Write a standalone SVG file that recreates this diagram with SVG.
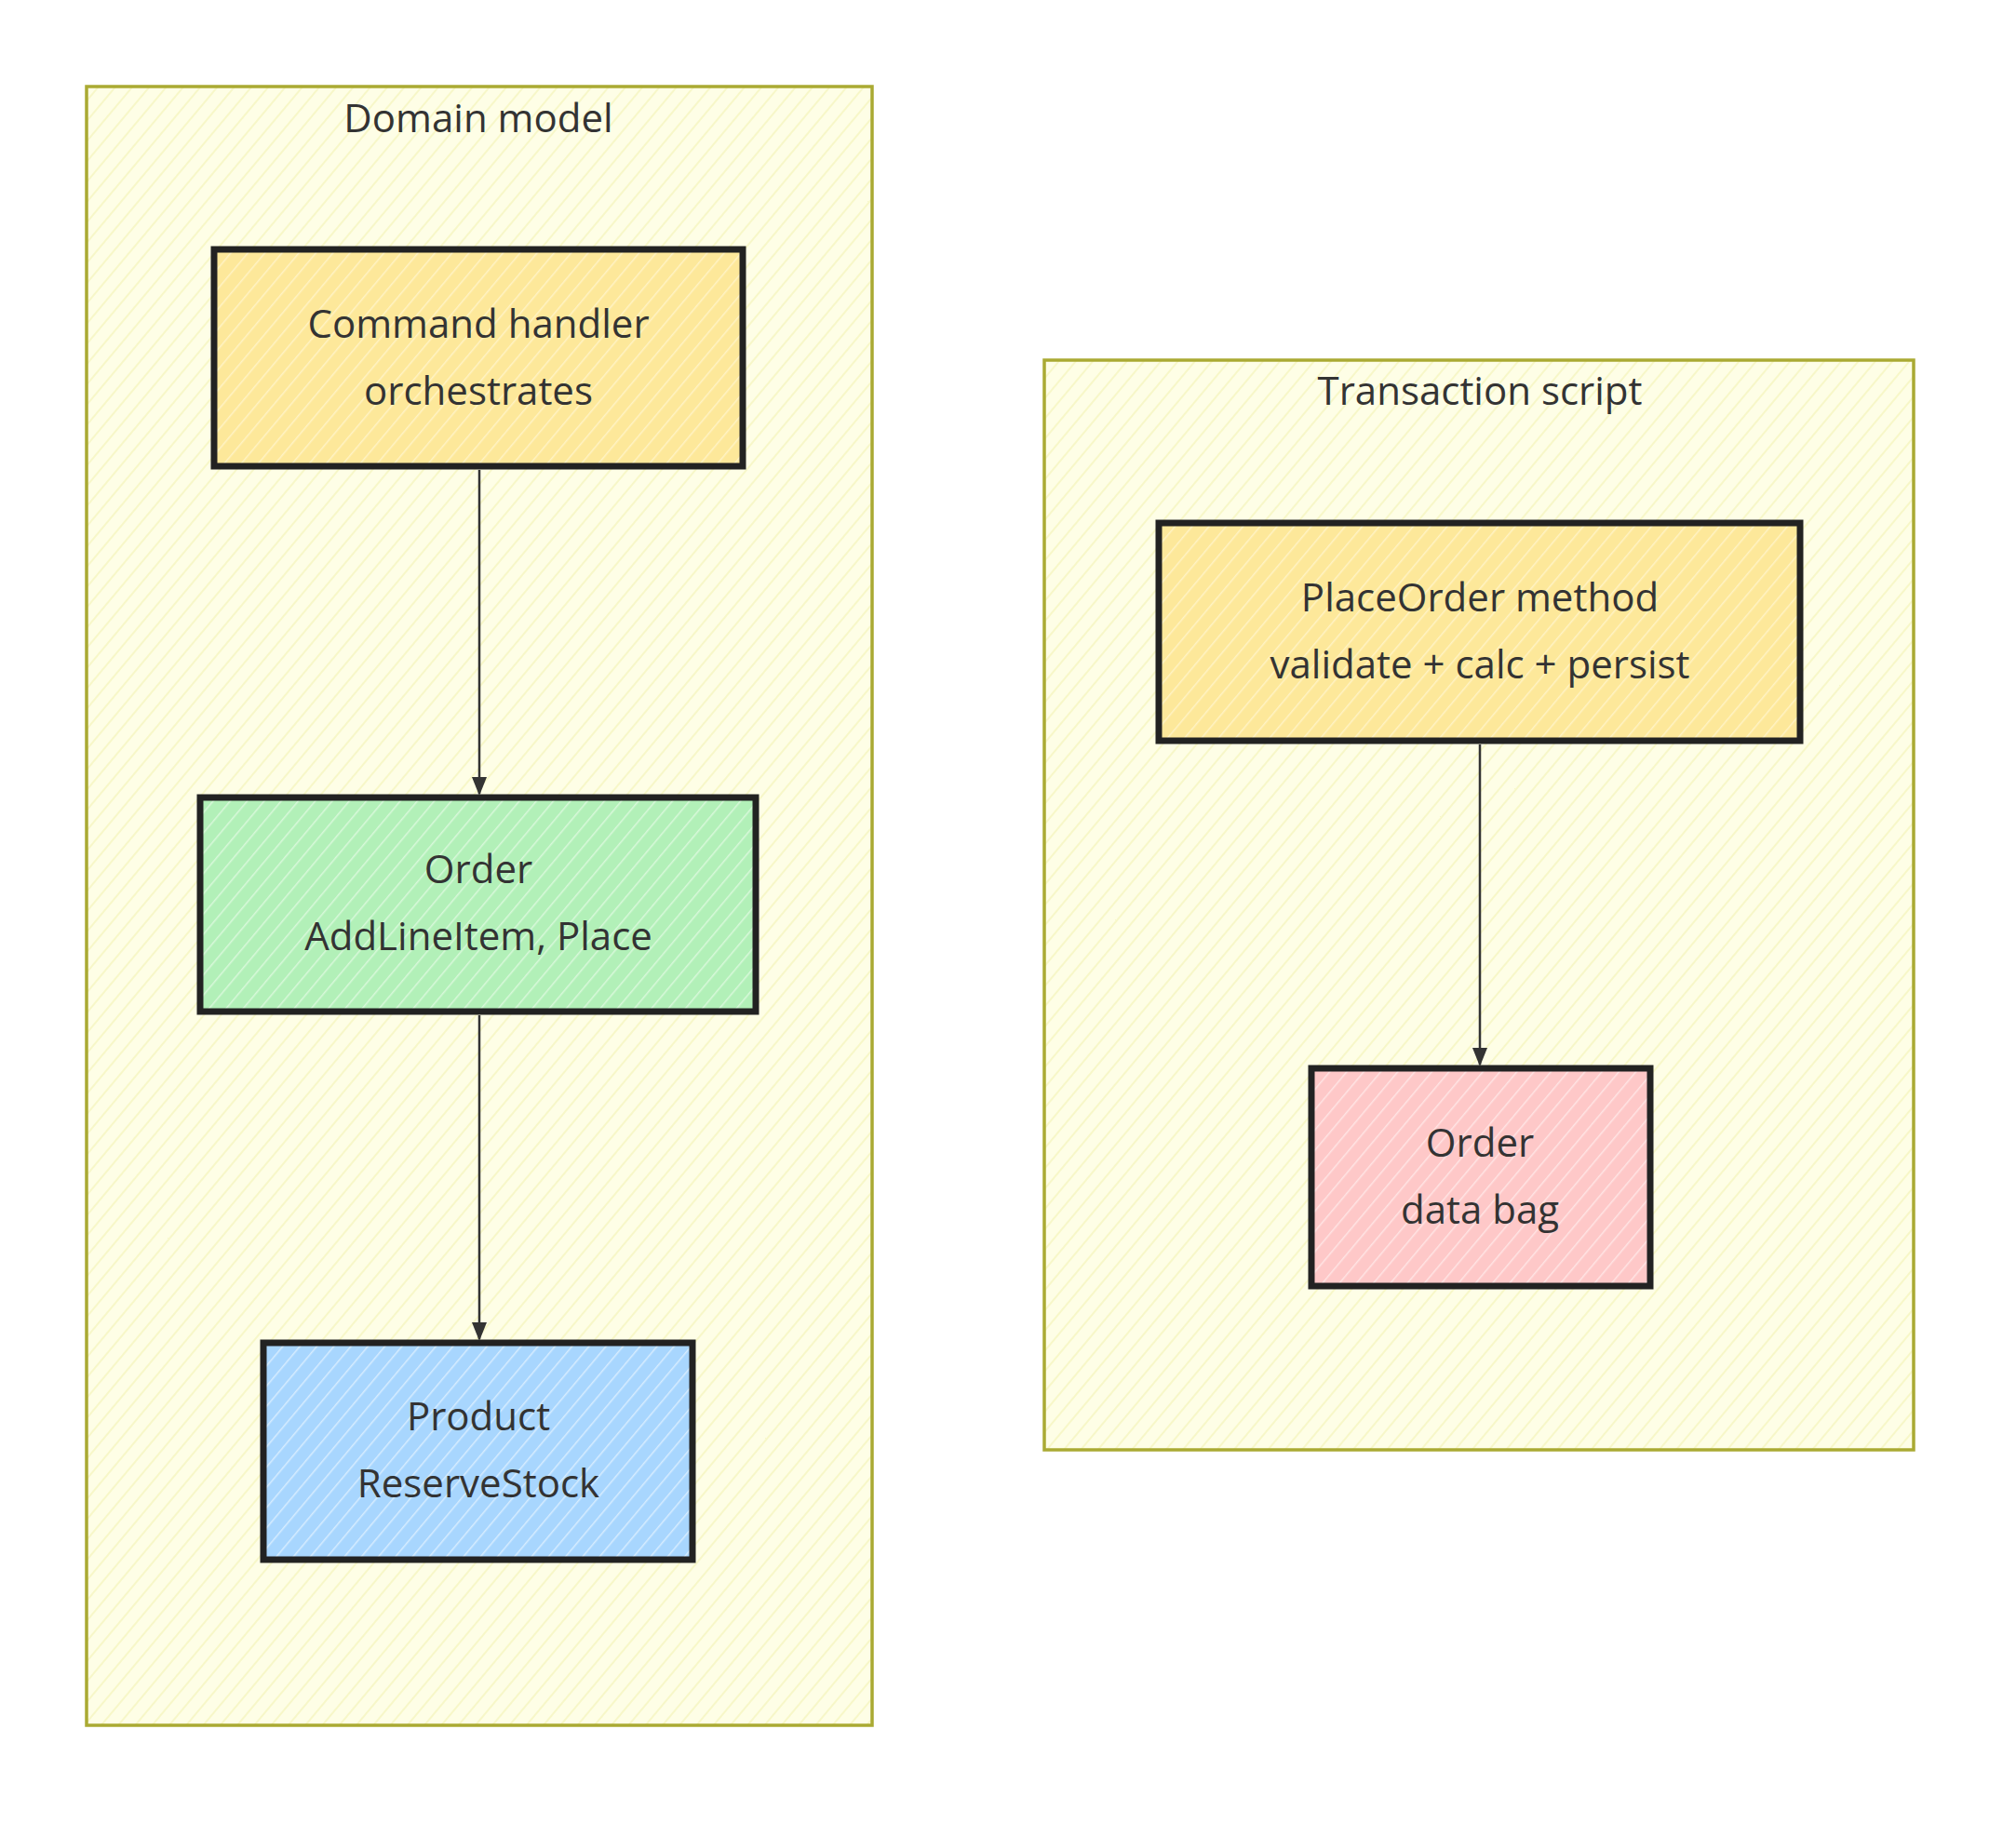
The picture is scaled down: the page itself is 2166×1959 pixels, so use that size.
<svg xmlns="http://www.w3.org/2000/svg" width="2166" height="1959" viewBox="0 0 2166 1959">
<defs>
<pattern id="hz" width="14" height="14" patternUnits="userSpaceOnUse" patternTransform="rotate(40)"><rect width="14" height="14" fill="#fefee6"/><line x1="0" y1="0" x2="0" y2="14" stroke="#f7f7c8" stroke-width="4"/></pattern>
<pattern id="hy" width="14" height="14" patternUnits="userSpaceOnUse" patternTransform="rotate(40)"><rect width="14" height="14" fill="#fde89a"/><line x1="0" y1="0" x2="0" y2="14" stroke="#fff3c4" stroke-width="3"/></pattern>
<pattern id="hg" width="14" height="14" patternUnits="userSpaceOnUse" patternTransform="rotate(40)"><rect width="14" height="14" fill="#b2f0b8"/><line x1="0" y1="0" x2="0" y2="14" stroke="#d8f8da" stroke-width="3"/></pattern>
<pattern id="hb" width="14" height="14" patternUnits="userSpaceOnUse" patternTransform="rotate(40)"><rect width="14" height="14" fill="#a8d6fe"/><line x1="0" y1="0" x2="0" y2="14" stroke="#d6ecff" stroke-width="3"/></pattern>
<pattern id="hr" width="14" height="14" patternUnits="userSpaceOnUse" patternTransform="rotate(40)"><rect width="14" height="14" fill="#fec8c8"/><line x1="0" y1="0" x2="0" y2="14" stroke="#ffe4e4" stroke-width="3"/></pattern>
<marker id="ah" markerWidth="20" markerHeight="20" refX="18" refY="10" orient="auto" markerUnits="userSpaceOnUse" viewBox="0 0 20 20"><path d="M0,2 L20,10 L0,18 z" fill="#333"/></marker>
</defs>
<style>
.cl{stroke:#aaaa33;stroke-width:3.5}
.nd{stroke:#222;stroke-width:7}
text{font-family:"Open Sans","DejaVu Sans",sans-serif;font-size:42px;fill:#333;text-anchor:middle}
.e{stroke:#333;stroke-width:2.5;fill:none;marker-end:url(#ah)}
</style>
<rect width="2166" height="1959" fill="#fff"/>
<g id="domain"><rect class="cl" x="93" y="93" width="844" height="1761" fill="url(#hz)"/><text x="514" y="142">Domain model</text></g>
<g id="tx"><rect class="cl" x="1122" y="387" width="934" height="1171" fill="url(#hz)"/><text x="1590" y="435">Transaction script</text></g>
<g id="edges">
<path class="e" d="M515,505 L515,853"/>
<path class="e" d="M515,1091 L515,1439"/>
<path class="e" d="M1590,800 L1590,1144"/>
</g>
<g id="cmd"><rect class="nd" x="230" y="268" width="568" height="233" fill="url(#hy)"/><text x="514" y="363">Command handler</text><text x="514" y="435">orchestrates</text></g>
<g id="order"><rect class="nd" x="215" y="857" width="597" height="230" fill="url(#hg)"/><text x="514" y="949">Order</text><text x="514" y="1021">AddLineItem, Place</text></g>
<g id="product"><rect class="nd" x="283" y="1443" width="461" height="233" fill="url(#hb)"/><text x="514" y="1537">Product</text><text x="514" y="1609">ReserveStock</text></g>
<g id="place"><rect class="nd" x="1245" y="562" width="689" height="234" fill="url(#hy)"/><text x="1590" y="657">PlaceOrder method</text><text x="1590" y="729">validate + calc + persist</text></g>
<g id="bag"><rect class="nd" x="1409" y="1148" width="364" height="234" fill="url(#hr)"/><text x="1590" y="1243">Order</text><text x="1590" y="1315">data bag</text></g>
</svg>
